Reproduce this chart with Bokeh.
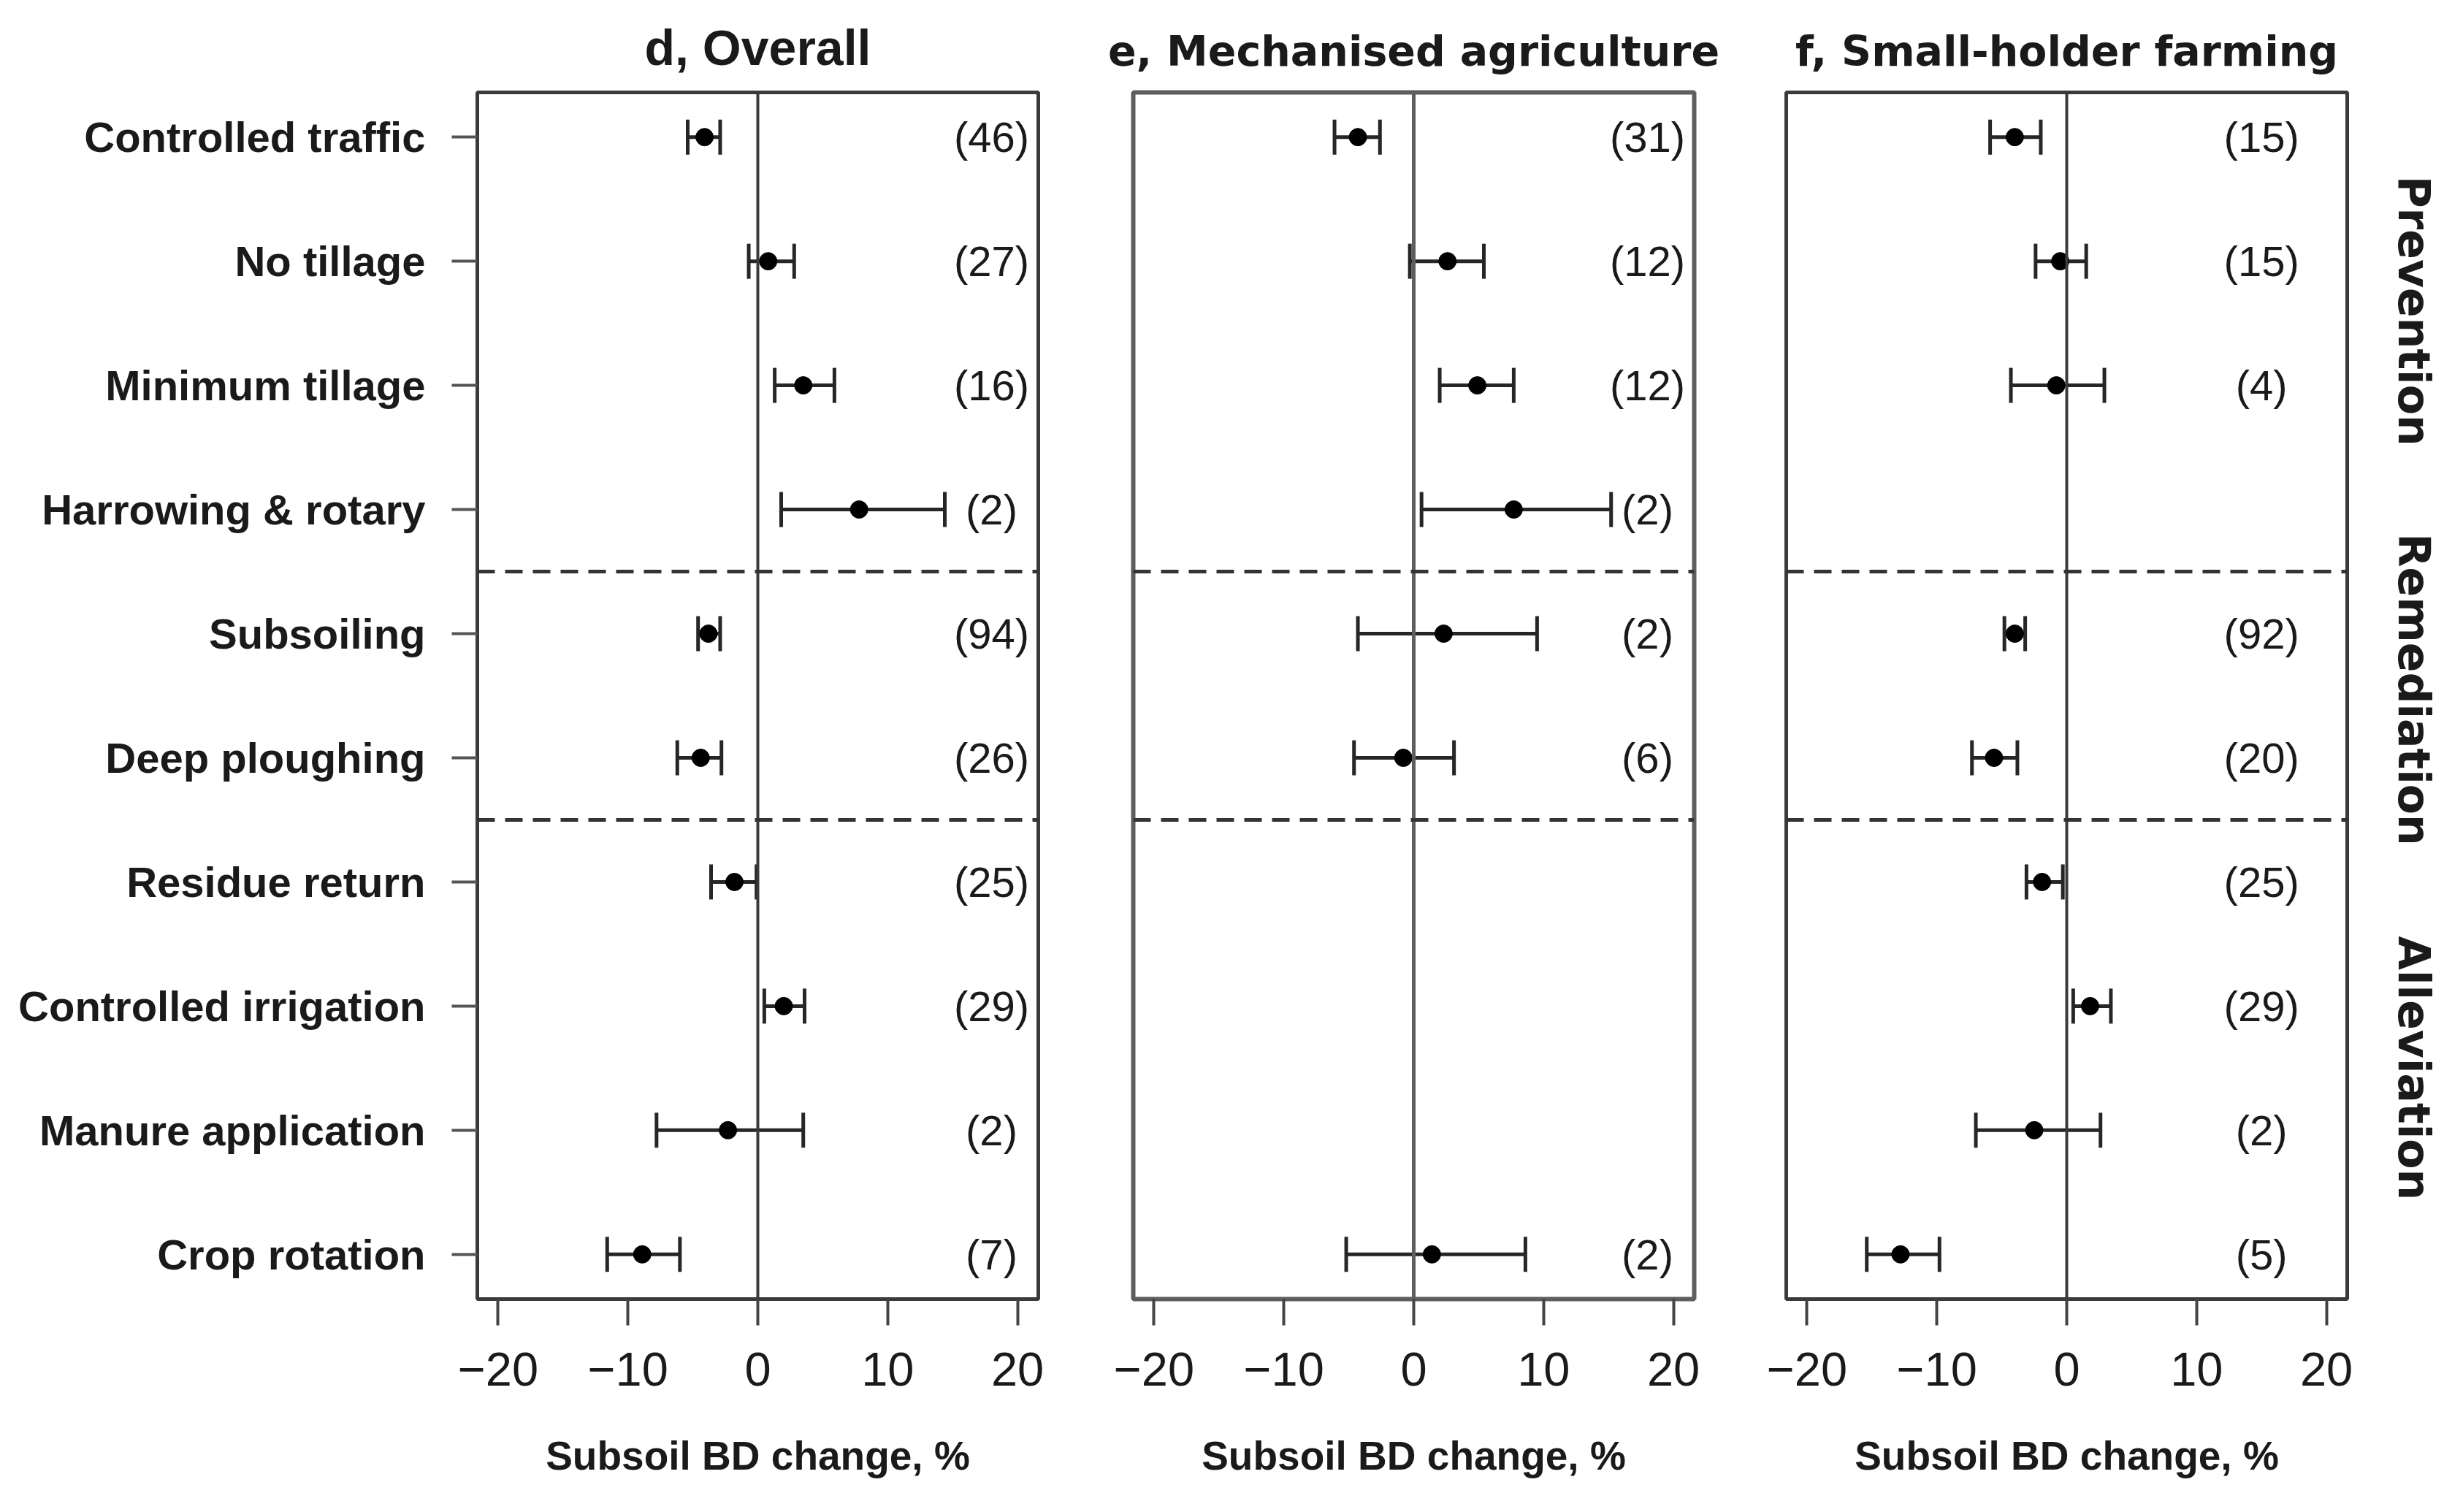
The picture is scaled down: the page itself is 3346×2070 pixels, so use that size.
import math
from bokeh.plotting import figure
from bokeh.models import ColumnDataSource, Span, Whisker, TeeHead, FixedTicker, Range1d, LinearAxis
from bokeh.layouts import row
from bokeh.embed import file_html
from bokeh.resources import INLINE
from bokeh.core.properties import value

nan = float("nan")

# ---------------- data ----------------
categories = ["Controlled traffic", "No tillage", "Minimum tillage", "Harrowing & rotary",
              "Subsoiling", "Deep ploughing", "Residue return", "Controlled irrigation",
              "Manure application", "Crop rotation"]

panel_titles = ["d, Overall", "e, Mechanised agriculture", "f, Small-holder farming"]

d_mean = [-4.1, 0.8, 3.5, 7.8, -3.8, -4.4, -1.8, 2.0, -2.3, -8.9]
d_lo = [-5.4, -0.7, 1.3, 1.8, -4.6, -6.2, -3.6, 0.5, -7.8, -11.6]
d_hi = [-2.9, 2.8, 5.9, 14.4, -2.9, -2.8, -0.1, 3.6, 3.5, -6.0]
d_n = [46, 27, 16, 2, 94, 26, 25, 29, 2, 7]

e_mean = [-4.3, 2.6, 4.9, 7.7, 2.3, -0.8, nan, nan, nan, 1.4]
e_lo = [-6.1, -0.3, 2.0, 0.6, -4.3, -4.6, nan, nan, nan, -5.2]
e_hi = [-2.6, 5.4, 7.7, 15.2, 9.5, 3.1, nan, nan, nan, 8.6]
e_n = [31, 12, 12, 2, 2, 6, None, None, None, 2]

f_mean = [-4.0, -0.5, -0.8, nan, -4.0, -5.6, -1.9, 1.8, -2.5, -12.8]
f_lo = [-5.9, -2.4, -4.3, nan, -4.8, -7.3, -3.1, 0.5, -7.0, -15.4]
f_hi = [-2.0, 1.5, 2.9, nan, -3.2, -3.8, -0.3, 3.4, 2.6, -9.8]
f_n = [15, 15, 4, None, 92, 20, 25, 29, 2, 5]

group_names = ["Prevention", "Remediation", "Alleviation"]
group_separators = [6.5, 4.5]

x_ticks = [-20, -10, 0, 10, 20]
x_tick_labels = ["\u221220", "\u221210", "0", "10", "20"]
x_axis_label = "Subsoil BD change, %"

# ---------------- layout constants ----------------
n_label_x = [18, 18, 15]
group_label_y = [8.6, 5.55, 2.5]
FRAME_W = 768
FRAME_H = 1652
TOP = 126
BOTTOM = 270
TEXT = "#1a1a1a"

ys = [len(categories) - i for i in range(len(categories))]


def make_panel(idx, mean, lo, hi, n, left_border, right_border, frame_color, frame_width,
               title_font, title_size):
    show_y = idx == 0
    p = figure(frame_width=FRAME_W, frame_height=FRAME_H,
               min_border_left=left_border, min_border_right=right_border,
               min_border_top=TOP, min_border_bottom=BOTTOM,
               x_range=Range1d(-21.6, 21.6), y_range=Range1d(0.64, 10.36),
               y_axis_location="left" if show_y else None,
               toolbar_location=None, output_backend="svg",
               title=panel_titles[idx])
    p.background_fill_color = "white"
    p.border_fill_color = "white"
    p.outline_line_color = frame_color
    p.outline_line_width = frame_width
    p.xgrid.visible = False
    p.ygrid.visible = False

    p.title.align = "center"
    p.title.text_font = title_font
    p.title.text_font_style = "bold"
    p.title.text_font_size = title_size
    p.title.text_color = TEXT
    p.title.standoff = 48

    xa = p.xaxis[0]
    xa.ticker = FixedTicker(ticks=x_ticks)
    xa.major_label_overrides = {t: l for t, l in zip(x_ticks, x_tick_labels)}
    xa.major_label_text_font = "Liberation Sans"
    xa.major_label_text_font_size = "65px"
    xa.major_label_text_color = TEXT
    xa.major_label_standoff = 37
    xa.major_tick_out = 36
    xa.major_tick_in = 0
    xa.major_tick_line_width = 4
    xa.major_tick_line_color = "#444444"
    xa.minor_tick_line_color = None
    xa.axis_line_color = None
    xa.axis_label = x_axis_label
    xa.axis_label_text_font = "Liberation Sans"
    xa.axis_label_text_font_style = "bold"
    xa.axis_label_text_font_size = "55px"
    xa.axis_label_text_color = TEXT
    xa.axis_label_standoff = 62

    if show_y:
        ya = p.yaxis[0]
        ya.ticker = FixedTicker(ticks=ys)
        ya.major_label_overrides = {y: c for y, c in zip(ys, categories)}
        ya.major_label_text_font = "Liberation Sans"
        ya.major_label_text_font_style = "bold"
        ya.major_label_text_font_size = "58px"
        ya.major_label_text_color = TEXT
        ya.major_label_standoff = 36
        ya.major_tick_out = 35
        ya.major_tick_in = 0
        ya.major_tick_line_width = 4
        ya.major_tick_line_color = "#555555"
        ya.minor_tick_line_color = None
        ya.axis_line_color = None

    # zero line
    p.add_layout(Span(location=0, dimension="height", line_color=frame_color,
                      line_width=max(4, frame_width - 1)))
    # group separators
    for s in group_separators:
        p.add_layout(Span(location=s, dimension="width", line_color="#333333",
                          line_width=5, line_dash="24 14"))

    keep = [i for i in range(len(categories)) if mean[i] == mean[i]]
    src = ColumnDataSource(dict(
        y=[ys[i] for i in keep],
        m=[mean[i] for i in keep],
        lo=[lo[i] for i in keep],
        hi=[hi[i] for i in keep],
        lab=["(%d)" % n[i] for i in keep],
        lx=[n_label_x[idx]] * len(keep),
    ))
    wcol = "#262626"
    w = Whisker(source=src, base="y", lower="lo", upper="hi", dimension="width",
                line_color=wcol, line_width=5,
                lower_head=TeeHead(size=48, line_color=wcol, line_width=5),
                upper_head=TeeHead(size=48, line_color=wcol, line_width=5))
    p.add_layout(w)
    p.scatter("m", "y", source=src, size=24, marker="circle",
              fill_color="black", line_color="black")
    p.text("lx", "y", text="lab", source=src, text_align="center", text_baseline="middle",
           text_font=value("Liberation Sans"), text_font_size="58px", text_color=TEXT)
    return p


pd_ = make_panel(0, d_mean, d_lo, d_hi, d_n, 653, 60, "#3a3a3a", 5,
                 "Liberation Sans", "68px")
pe_ = make_panel(1, e_mean, e_lo, e_hi, e_n, 70, 60, "#5e5e5e", 6,
                 "DejaVu Sans", "57px")
pf_ = make_panel(2, f_mean, f_lo, f_hi, f_n, 66, 116, "#3a3a3a", 5,
                 "DejaVu Sans", "57px")

# group labels to the right of the last panel, as a right-hand axis
gaxis = LinearAxis(ticker=FixedTicker(ticks=group_label_y),
                   major_label_overrides={c: g for c, g in zip(group_label_y, group_names)},
                   major_label_orientation="parallel",
                   major_label_text_font="DejaVu Sans",
                   major_label_text_font_style="bold",
                   major_label_text_font_size="60px",
                   major_label_text_color=TEXT,
                   major_label_standoff=50,
                   major_tick_line_color=None, minor_tick_line_color=None,
                   axis_line_color=None)
pf_.add_layout(gaxis, "right")

layout = row(pd_, pe_, pf_)
open("out.html", "w").write(file_html(layout, INLINE))
